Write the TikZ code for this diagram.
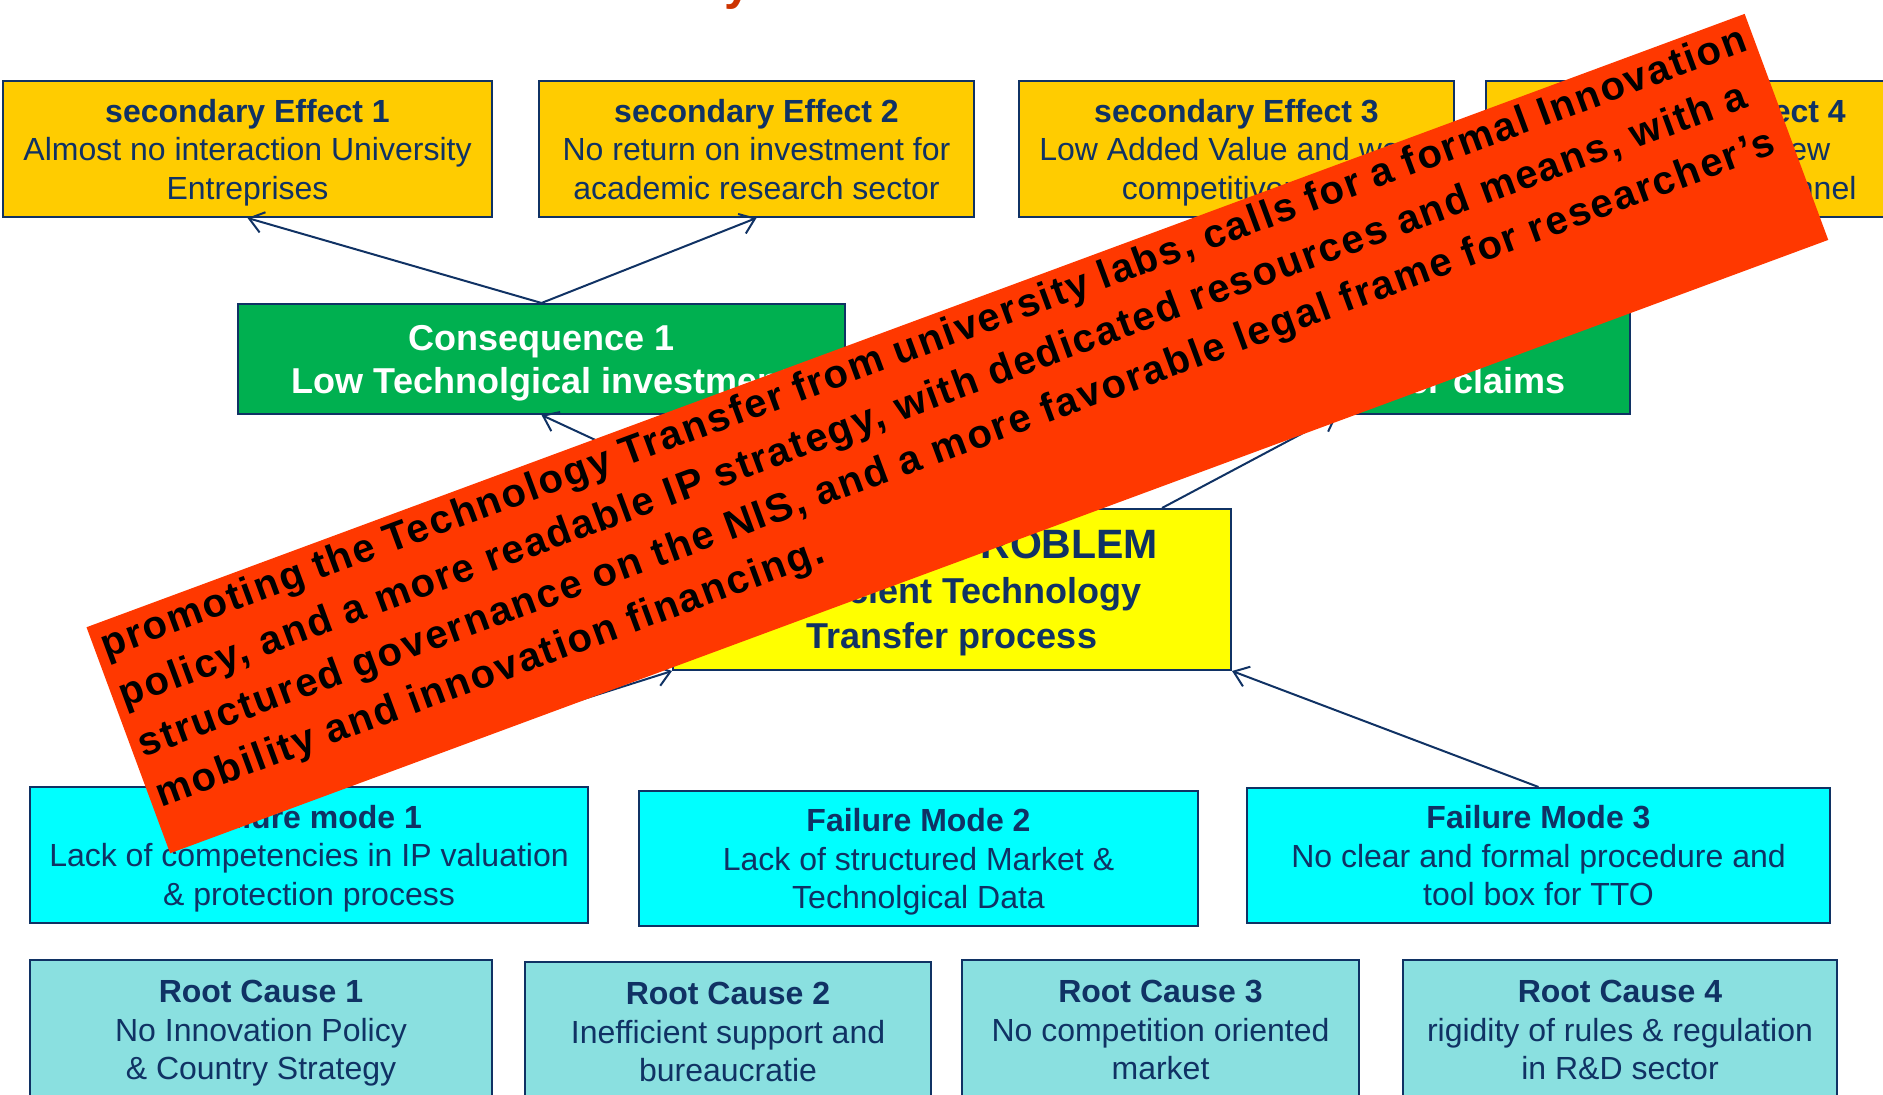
\documentclass[tikz,border=0pt]{standalone}
\usepackage{fontspec}
\setmainfont{Liberation Sans}
\newfontfamily\bannerfont{Liberation Sans}[LetterSpace=5]
\usetikzlibrary{arrows.meta}
\definecolor{treenavy}{HTML}{103264}
\definecolor{effectfill}{HTML}{FFCC00}
\definecolor{consfill}{HTML}{00B050}
\definecolor{corefill}{HTML}{FFFF00}
\definecolor{failfill}{HTML}{00FFFF}
\definecolor{causefill}{HTML}{8AE0E0}
\definecolor{bannerfill}{HTML}{FF3800}
\definecolor{titlered}{HTML}{CC3300}
\tikzset{
	treebox/.style={draw=treenavy, line width=1pt, text=treenavy, align=center, inner sep=0pt,
		text depth=0pt, font=\fontsize{16}{19.25}\selectfont},
	boxsize/.style 2 args={minimum width=#1*0.5pt, minimum height=#2*0.5pt},
	effectbox/.style={treebox, fill=effectfill},
	consbox/.style={treebox, fill=consfill, text=white, font=\fontsize{18}{21.5}\selectfont\bfseries},
	corebox/.style={treebox, fill=corefill, font=\fontsize{18}{22.5}\selectfont\bfseries},
	failbox/.style={treebox, fill=failfill},
	causebox/.style={treebox, fill=causefill},
	link/.style={draw=treenavy, line width=1pt, -{Straight Barb[length=7pt,width=10.5pt]}},
	banner/.style={fill=bannerfill, text=black, inner xsep=4pt, inner ysep=0pt,
		font=\bannerfont\bfseries\fontsize{20}{26.5}\selectfont}
}
\newcommand{\boxlines}[2]{\textbf{#1}\\#2}
\begin{document}
\begin{tikzpicture}[x=0.5pt, y=-0.5pt]
			\useasboundingbox (0,0) rectangle (1883,1095);
			\clip (0,0) rectangle (1883,1095);
			\node[font=\fontsize{24}{28}\selectfont\bfseries, text=titlered, anchor=base east, inner sep=0pt]
				(title) at (752,0) {Problem Tree of the University};
			% secondary effects
			\node[effectbox, boxsize={489}{136}] (se1) at (247.5,149)
				{\boxlines{secondary Effect 1}{Almost no interaction University\\Entreprises}};
			\node[effectbox, boxsize={435}{136}] (se2) at (756.5,149)
				{\boxlines{secondary Effect 2}{No return on investment for\\academic research sector}};
			\node[effectbox, boxsize={435}{136}] (se3) at (1236.5,149)
				{\boxlines{secondary Effect 3}{Low Added Value and weak\\competitiveness}};
			\node[effectbox, boxsize={435}{136}] (se4) at (1703.5,149)
				{\boxlines{secondary Effect 4}{Spin-offs very few\\no marketing channel}};
			% consequences
			\node[consbox, boxsize={607}{110}] (c1) at (541.5,359)
				{Consequence 1\\Low Technolgical investment};
			\node[consbox, boxsize={586}{110}] (c2) at (1337,359)
				{Consequence 2\\Low IP and transfer claims};
			% core problem
			\node[corebox, boxsize={558}{161}] (cp) at (952,589.5)
				{{\fontsize{20.5}{24}\selectfont CENTRAL PROBLEM}\\Inefficient Technology\\Transfer process};
			% failure modes
			\node[failbox, boxsize={558}{136}] (fm1) at (309,855)
				{\boxlines{Failure mode 1}{Lack of competencies in IP valuation\\\& protection process}};
			\node[failbox, boxsize={559}{135}] (fm2) at (918.5,858.5)
				{\boxlines{Failure Mode 2}{Lack of structured Market \&\\Technolgical Data}};
			\node[failbox, boxsize={583}{135}] (fm3) at (1538.5,855.5)
				{\boxlines{Failure Mode 3}{No clear and formal procedure and\\tool box for TTO}};
			% root causes
			\node[causebox, boxsize={462}{140}] (rc1) at (261,1030)
				{\boxlines{Root Cause 1}{No Innovation Policy\\\& Country Strategy}};
			\node[causebox, boxsize={406}{140}] (rc2) at (728,1032)
				{\boxlines{Root Cause 2}{Inefficient support and\\bureaucratie}};
			\node[causebox, boxsize={397}{140}] (rc3) at (1160.5,1030)
				{\boxlines{Root Cause 3}{No competition oriented\\market}};
			\node[causebox, boxsize={434}{140}] (rc4) at (1620,1030)
				{\boxlines{Root Cause 4}{rigidity of rules \& regulation\\in R\&D sector}};
			\draw[link] (c1.north) -- (se1.south);
			\draw[link] (c1.north) -- (se2.south);
			\draw[link] ([xshift=-105pt]cp.north) -- (c1.south);
			\draw[link] ([xshift=105pt]cp.north) -- (c2.south);
			\draw[link] (fm1.north) -- (cp.south west);
			\draw[link] (fm3.north) -- (cp.south east);
			% the note laid across the tree
			\node[banner, rotate=20.3, anchor=north west, minimum width=884pt, minimum height=120.5pt]
				(note) at (86,627)
				{\parbox[t][120.5pt][t]{876pt}{\raggedright\rule{0pt}{18pt}%
					promoting the Technology Transfer from university labs, calls for a formal Innovation\\
					policy, and a more readable IP strategy, with dedicated resources and means, with a\\
					structured governance on the NIS, and a more favorable legal frame for researcher’s\\
					mobility and innovation financing.}};
		\end{tikzpicture}
\end{document}
